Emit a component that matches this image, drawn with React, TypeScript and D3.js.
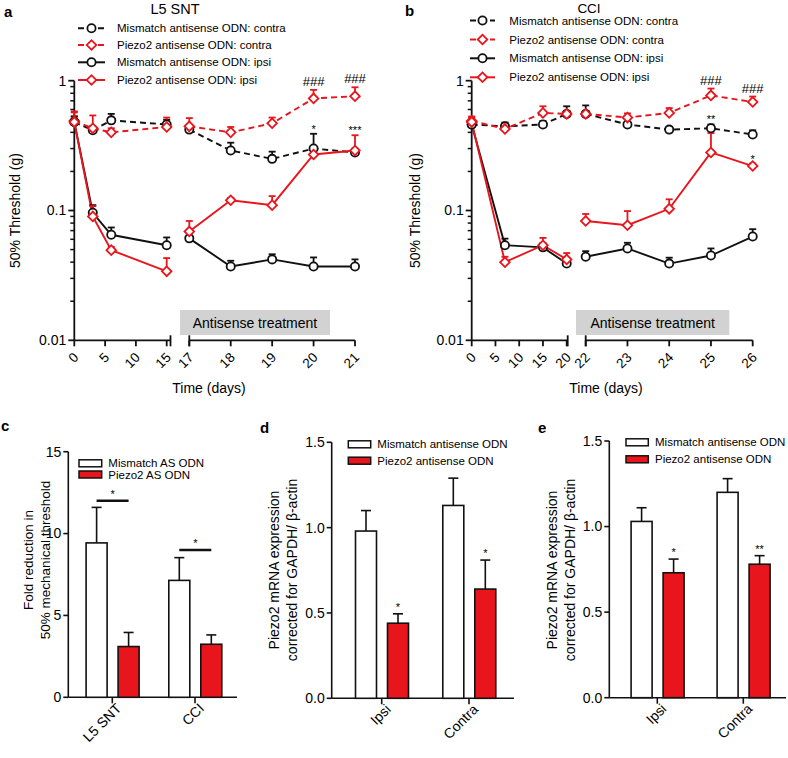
import React from 'react';
import * as d3 from 'd3';

const FONT = '"Liberation Sans", Arial, Helvetica, sans-serif';
const RED = '#e8151c';
const BLACK = '#111111';

// ---------- Panel a (L5 SNT) ----------
const daysA = [0, 3, 6, 15, 17, 18, 19, 20, 21];
const aMismatchContra = [0.48, 0.415, 0.495, 0.46, 0.42, 0.29, 0.25, 0.3, 0.28];
const aMismatchContraSem = [0.05, 0.03, 0.06, 0.04, 0.03, 0.043, 0.034, 0.09, 0.02];
const aPiezoContra = [0.49, 0.43, 0.4, 0.44, 0.445, 0.4, 0.47, 0.73, 0.76];
const aPiezoContraSem = [0.09, 0.11, 0.03, 0.08, 0.07, 0.04, 0.05, 0.12, 0.13];
const aMismatchIpsi = [0.48, 0.096, 0.065, 0.054, 0.061, 0.037, 0.042, 0.037, 0.037];
const aMismatchIpsiSem = [0.05, 0.014, 0.009, 0.008, 0.003, 0.004, 0.004, 0.0065, 0.005];
const aPiezoIpsi = [0.48, 0.09, 0.0495, 0.034, 0.069, 0.12, 0.11, 0.27, 0.29];
const aPiezoIpsiSem = [0.09, 0.018, 0.003, 0.009, 0.014, 0.005, 0.019, 0.02, 0.09];
const aTicks1 = [0, 5, 10, 15];
const aTicks2 = [17, 18, 19, 20, 21];
const aMarks = [
  { day: 20, s: 1, text: '###' },
  { day: 21, s: 1, text: '###' },
  { day: 20, s: 0, text: '*' },
  { day: 21, s: 3, text: '***' },
];

// ---------- Panel b (CCI) ----------
const daysB = [0, 7, 15, 20, 22, 23, 24, 25, 26];
const bMismatchContra = [0.46, 0.445, 0.46, 0.555, 0.555, 0.46, 0.42, 0.43, 0.385];
const bMismatchContraSem = [0.03, 0.03, 0.03, 0.08, 0.09, 0.02, 0.02, 0.03, 0.03];
const bPiezoContra = [0.49, 0.425, 0.565, 0.555, 0.555, 0.52, 0.565, 0.77, 0.685];
const bPiezoContraSem = [0.04, 0.05, 0.07, 0.03, 0.03, 0.04, 0.05, 0.1, 0.07];
const bMismatchIpsi = [0.46, 0.054, 0.052, 0.039, 0.044, 0.051, 0.039, 0.045, 0.063];
const bMismatchIpsiSem = [0.03, 0.0067, 0.004, 0.003, 0.0046, 0.0054, 0.0043, 0.006, 0.0088];
const bPiezoIpsi = [0.48, 0.04, 0.054, 0.042, 0.083, 0.077, 0.103, 0.28, 0.22];
const bPiezoIpsiSem = [0.04, 0.004, 0.0075, 0.005, 0.011, 0.022, 0.019, 0.115, 0.01];
const bTicks1 = [0, 5, 10, 15, 20];
const bTicks2 = [22, 23, 24, 25, 26];
const bMarks = [
  { day: 25, s: 1, text: '###' },
  { day: 26, s: 1, text: '###' },
  { day: 25, s: 0, text: '**' },
  { day: 26, s: 3, text: '*' },
];

const lineLegend = [
  'Mismatch antisense ODN: contra',
  'Piezo2 antisense ODN: contra',
  'Mismatch antisense ODN: ipsi',
  'Piezo2 antisense ODN: ipsi',
];

// ---------- Panel c ----------
const cCats = ['L5 SNT', 'CCI'];
const cMismatch = [9.43, 7.14];
const cMismatchSem = [2.17, 1.39];
const cPiezo = [3.1, 3.24];
const cPiezoSem = [0.86, 0.57];
const cSig = [12, 9];
const cTicks = [0, 5, 10, 15];

// ---------- Panel d ----------
const dCats = ['Ipsi', 'Contra'];
const dMismatch = [0.98, 1.13];
const dMismatchSem = [0.12, 0.16];
const dPiezo = [0.44, 0.64];
const dPiezoSem = [0.055, 0.17];
const dStars = ['*', '*'];

// ---------- Panel e ----------
const eCats = ['Ipsi', 'Contra'];
const eMismatch = [1.03, 1.2];
const eMismatchSem = [0.08, 0.08];
const ePiezo = [0.73, 0.78];
const ePiezoSem = [0.08, 0.05];
const eStars = ['*', '**'];
const mrnaTicks = [0, 0.5, 1.0, 1.5];

function mkSeries(days: number[], vals: number[][], sems: number[][]) {
  const styles = [
    { color: BLACK, dashed: true, marker: 'circle' },
    { color: RED, dashed: true, marker: 'diamond' },
    { color: BLACK, dashed: false, marker: 'circle' },
    { color: RED, dashed: false, marker: 'diamond' },
  ];
  return styles.map((st, i) => ({
    ...st,
    label: lineLegend[i],
    points: days.map((d, j) => ({ d, v: vals[i][j], e: sems[i][j] })),
  }));
}

const seriesA = mkSeries(
  daysA,
  [aMismatchContra, aPiezoContra, aMismatchIpsi, aPiezoIpsi],
  [aMismatchContraSem, aPiezoContraSem, aMismatchIpsiSem, aPiezoIpsiSem]
);
const seriesB = mkSeries(
  daysB,
  [bMismatchContra, bPiezoContra, bMismatchIpsi, bPiezoIpsi],
  [bMismatchContraSem, bPiezoContraSem, bMismatchIpsiSem, bPiezoIpsiSem]
);

const diamondPath = d3.symbol().type(d3.symbolSquare).size(46)() as string;

function Marker({ type, x, y, color }: any) {
  if (type === 'circle')
    return <circle cx={x} cy={y} r={4.1} fill="#fff" stroke={color} strokeWidth={1.8} />;
  return (
    <path
      d={diamondPath}
      transform={`translate(${x},${y}) rotate(45)`}
      fill="#fff"
      stroke={color}
      strokeWidth={1.8}
    />
  );
}

function LinePanel({ cfg }: any) {
  const y = d3.scaleLog().domain([0.01, 1]).range([340.3, 80.7]);
  const x1 = d3.scaleLinear().domain(cfg.seg1.domain).range(cfg.seg1.range);
  const x2 = d3.scaleLinear().domain(cfg.seg2.domain).range(cfg.seg2.range);
  const split = cfg.seg1.domain[1];
  const xOf = (d: number) => (d <= split ? x1(d) : x2(d));
  const axisY = y(0.01);
  const line = d3
    .line<any>()
    .x((p) => xOf(p.d))
    .y((p) => y(p.v));
  const minor: number[] = [];
  [0.01, 0.1].forEach((dec) => {
    for (let k = 2; k <= 9; k++) minor.push(k * dec);
  });
  const majors = [0.01, 0.1, 1];
  const ax = cfg.axisX;
  const series = cfg.series;
  return (
    <g fontFamily={FONT}>
      <text x={cfg.letterX} y={cfg.letterY} fontSize={15} fontWeight="bold">
        {cfg.letter}
      </text>
      <text x={cfg.titleX} y={cfg.titleY} fontSize={cfg.titleSize} textAnchor="middle">
        {cfg.title}
      </text>
      {/* legend */}
      {series.map((s: any, i: number) => {
        const ly = cfg.legend.ys[i];
        return (
          <g key={'lg' + i}>
            <line
              x1={cfg.legend.x0}
              x2={cfg.legend.x1}
              y1={ly}
              y2={ly}
              stroke={s.color}
              strokeWidth={2}
              strokeDasharray={s.dashed ? '6,4' : undefined}
            />
            <Marker type={s.marker} x={(cfg.legend.x0 + cfg.legend.x1) / 2} y={ly} color={s.color} />
            <text x={cfg.legend.tx} y={ly} dy="0.35em" fontSize={11.5}>
              {s.label}
            </text>
          </g>
        );
      })}
      {/* grey box */}
      <rect x={cfg.box[0]} y={310} width={cfg.box[1] - cfg.box[0]} height={25} fill="#d2d2d2" />
      <text x={(cfg.box[0] + cfg.box[1]) / 2} y={327.5} fontSize={14} textAnchor="middle">
        Antisense treatment
      </text>
      {/* y axis */}
      <line x1={ax} x2={ax} y1={y(1)} y2={axisY} stroke={BLACK} strokeWidth={1.8} />
      {majors.map((m) => (
        <g key={'mj' + m}>
          <line x1={ax - 6} x2={ax} y1={y(m)} y2={y(m)} stroke={BLACK} strokeWidth={1.8} />
          <text x={ax - 8} y={y(m)} dy="0.35em" fontSize={14} textAnchor="end">
            {d3.format('~g')(m)}
          </text>
        </g>
      ))}
      {minor.map((m) => (
        <line key={'mn' + m} x1={ax - 4} x2={ax} y1={y(m)} y2={y(m)} stroke={BLACK} strokeWidth={1.5} />
      ))}
      <text
        transform={`translate(${cfg.yLabelX},210.5) rotate(-90)`}
        fontSize={14}
        textAnchor="middle"
        dominantBaseline="central"
      >
        50% Threshold (g)
      </text>
      {/* x axis segments */}
      <line x1={ax} x2={cfg.seg1.end} y1={axisY} y2={axisY} stroke={BLACK} strokeWidth={1.8} />
      <line x1={cfg.seg1.end} x2={cfg.seg1.end} y1={axisY - 5} y2={axisY + 6} stroke={BLACK} strokeWidth={1.8} />
      <line
        x1={cfg.seg2.range[0]}
        x2={cfg.seg2.range[1]}
        y1={axisY}
        y2={axisY}
        stroke={BLACK}
        strokeWidth={1.8}
      />
      <line
        x1={cfg.seg2.range[0]}
        x2={cfg.seg2.range[0]}
        y1={axisY - 5}
        y2={axisY + 6}
        stroke={BLACK}
        strokeWidth={1.8}
      />
      {[...cfg.ticks1.map((t: number) => ({ t, x: x1(t) })), ...cfg.ticks2.map((t: number) => ({ t, x: x2(t) }))].map(
        (tk: any) => (
          <g key={'xt' + tk.t}>
            <line x1={tk.x} x2={tk.x} y1={axisY} y2={axisY + 6} stroke={BLACK} strokeWidth={1.8} />
            <text
              transform={`translate(${tk.x + 5},${axisY + 18}) rotate(-45)`}
              fontSize={13.5}
              textAnchor="end"
            >
              {tk.t}
            </text>
          </g>
        )
      )}
      <text x={cfg.xLabelX} y={393} fontSize={14} textAnchor="middle">
        Time (days)
      </text>
      {/* lines */}
      {series.map((s: any, i: number) => {
        const p1 = s.points.filter((p: any) => p.d <= split);
        const p2 = s.points.filter((p: any) => p.d > split);
        return (
          <g key={'ln' + i} fill="none" stroke={s.color} strokeWidth={1.9} strokeDasharray={s.dashed ? '6,4' : undefined}>
            <path d={line(p1) as string} />
            <path d={line(p2) as string} />
          </g>
        );
      })}
      {/* error bars */}
      {series.map((s: any, i: number) =>
        s.points.map((p: any, j: number) => {
          const xx = xOf(p.d);
          const yt = y(p.v + p.e);
          return (
            <g key={'eb' + i + '-' + j} stroke={s.color} strokeWidth={1.8}>
              <line x1={xx} x2={xx} y1={y(p.v)} y2={yt} />
              <line x1={xx - 3.5} x2={xx + 3.5} y1={yt} y2={yt} />
            </g>
          );
        })
      )}
      {/* markers */}
      {series.map((s: any, i: number) =>
        s.points.map((p: any, j: number) => (
          <Marker key={'mk' + i + '-' + j} type={s.marker} x={xOf(p.d)} y={y(p.v)} color={s.color} />
        ))
      )}
      {/* annotations */}
      {cfg.marks.map((m: any, i: number) => {
        const p = series[m.s].points.find((q: any) => q.d === m.day);
        const isHash = m.text.startsWith('#');
        return (
          <text
            key={'an' + i}
            x={xOf(m.day)}
            y={y(p.v + p.e) - (isHash ? 4 : 1)}
            fontSize={isHash ? 13 : 11}
            textAnchor="middle"
          >
            {m.text}
          </text>
        );
      })}
    </g>
  );
}

function BarPanel({ cfg }: any) {
  const y = d3.scaleLinear().domain(cfg.domain).range([cfg.y0, cfg.yTop]);
  const x = d3.scalePoint<string>().domain(cfg.cats).range(cfg.catRange);
  const ax = cfg.axisX;
  const bw = 21;
  const groups = [
    { vals: cfg.white, sems: cfg.whiteSem, fill: '#fff', off: -15.7 },
    { vals: cfg.red, sems: cfg.redSem, fill: RED, off: 16.3 },
  ];
  return (
    <g fontFamily={FONT}>
      <text x={cfg.letterX} y={cfg.letterY} fontSize={15} fontWeight="bold">
        {cfg.letter}
      </text>
      {/* y axis */}
      <line x1={ax} x2={ax} y1={cfg.yTop} y2={cfg.y0} stroke={BLACK} strokeWidth={1.6} />
      {cfg.ticks.map((t: number) => (
        <g key={'yt' + t}>
          <line x1={ax - 5} x2={ax} y1={y(t)} y2={y(t)} stroke={BLACK} strokeWidth={1.6} />
          <text x={ax - 7} y={y(t)} dy="0.35em" fontSize={14} textAnchor="end">
            {cfg.fmt(t)}
          </text>
        </g>
      ))}
      {cfg.ylabel.map((l: string, i: number) => (
        <text
          key={'yl' + i}
          transform={`translate(${cfg.ylabelX[i]},${cfg.ylabelY}) rotate(-90)`}
          fontSize={cfg.ylabelSize}
          textAnchor="middle"
          dominantBaseline="central"
        >
          {l}
        </text>
      ))}
      {/* x axis */}
      <line x1={ax} x2={cfg.xEnd} y1={cfg.y0} y2={cfg.y0} stroke={BLACK} strokeWidth={1.6} />
      {cfg.cats.map((c: string) => (
        <g key={'xc' + c}>
          <line x1={x(c)} x2={x(c)} y1={cfg.y0} y2={cfg.y0 + 6} stroke={BLACK} strokeWidth={1.6} />
          <text
            transform={`translate(${(x(c) as number) + 10},${cfg.y0 + 12}) rotate(-45)`}
            fontSize={14}
            textAnchor="end"
          >
            {c}
          </text>
        </g>
      ))}
      {/* bars */}
      {groups.map((g, gi) =>
        cfg.cats.map((c: string, i: number) => {
          const cx = (x(c) as number) + g.off;
          const top = y(g.vals[i]);
          const et = y(g.vals[i] + g.sems[i]);
          return (
            <g key={'b' + gi + i}>
              <line x1={cx} x2={cx} y1={top} y2={et} stroke={BLACK} strokeWidth={1.6} />
              <line x1={cx - 5} x2={cx + 5} y1={et} y2={et} stroke={BLACK} strokeWidth={1.6} />
              <rect
                x={cx - bw / 2}
                y={top}
                width={bw}
                height={cfg.y0 - top}
                fill={g.fill}
                stroke={BLACK}
                strokeWidth={1.6}
              />
            </g>
          );
        })
      )}
      {/* stars over red bars */}
      {cfg.stars &&
        cfg.cats.map((c: string, i: number) => (
          <text
            key={'st' + i}
            x={(x(c) as number) + 16.3}
            y={y(cfg.red[i] + cfg.redSem[i]) - 3}
            fontSize={11}
            textAnchor="middle"
          >
            {cfg.stars[i]}
          </text>
        ))}
      {/* significance lines */}
      {cfg.sig &&
        cfg.cats.map((c: string, i: number) => (
          <g key={'sg' + i}>
            <line
              x1={(x(c) as number) - 15.7}
              x2={(x(c) as number) + 16.3}
              y1={y(cfg.sig[i])}
              y2={y(cfg.sig[i])}
              stroke={BLACK}
              strokeWidth={2.6}
            />
            <text x={(x(c) as number) + 0.3} y={y(cfg.sig[i]) - 3} fontSize={11} textAnchor="middle">
              *
            </text>
          </g>
        ))}
      {/* legend */}
      {cfg.legendLabels.map((l: string, i: number) => (
        <g key={'lg' + i}>
          <rect
            x={cfg.legendX[0]}
            y={cfg.legendYs[i] - 3.5}
            width={cfg.legendX[1] - cfg.legendX[0]}
            height={7}
            fill={i === 0 ? '#fff' : RED}
            stroke={BLACK}
            strokeWidth={1.5}
          />
          <text x={cfg.legendTx} y={cfg.legendYs[i]} dy="0.35em" fontSize={11.5}>
            {l}
          </text>
        </g>
      ))}
    </g>
  );
}

export default function App() {
  const cfgA = {
    letter: 'a',
    letterX: 4,
    letterY: 17,
    title: 'L5 SNT',
    titleX: 175,
    titleY: 14,
    titleSize: 14.5,
    axisX: 74.3,
    seg1: { domain: [0, 15], range: [74.3, 166.7], end: 170.5 },
    seg2: { domain: [17, 21], range: [189.3, 355] },
    ticks1: aTicks1,
    ticks2: aTicks2,
    box: [180, 330],
    xLabelX: 209,
    yLabelX: 15,
    legend: { x0: 78, x1: 105, tx: 117, ys: [28.3, 45, 62.3, 80] },
    series: seriesA,
    marks: aMarks,
  };
  const cfgB = {
    letter: 'b',
    letterX: 405,
    letterY: 16,
    title: 'CCI',
    titleX: 589,
    titleY: 13,
    titleSize: 13.5,
    axisX: 471.7,
    seg1: { domain: [0, 20], range: [471.7, 566.7], end: 567.7 },
    seg2: { domain: [22, 26], range: [585.7, 752.7] },
    ticks1: bTicks1,
    ticks2: bTicks2,
    box: [576, 729.3],
    xLabelX: 606,
    yLabelX: 415,
    legend: { x0: 470, x1: 495, tx: 509.3, ys: [20.5, 39.5, 58.3, 77.3] },
    series: seriesB,
    marks: bMarks,
  };
  const cfgC = {
    letter: 'c',
    letterX: 1,
    letterY: 431,
    axisX: 68.3,
    yTop: 451.7,
    y0: 697.3,
    xEnd: 237,
    domain: [0, 15],
    ticks: cTicks,
    fmt: (t: number) => String(t),
    cats: cCats,
    catRange: [112.3, 195],
    white: cMismatch,
    whiteSem: cMismatchSem,
    red: cPiezo,
    redSem: cPiezoSem,
    sig: cSig,
    ylabel: ['Fold reduction in', '50% mechanical threshold'],
    ylabelX: [28, 45],
    ylabelY: 560,
    ylabelSize: 13.5,
    legendLabels: ['Mismatch AS ODN', 'Piezo2 AS ODN'],
    legendX: [79, 101.7],
    legendYs: [463.3, 474.5],
    legendTx: 108.3,
  };
  const cfgD = {
    letter: 'd',
    letterX: 260,
    letterY: 433,
    axisX: 331.7,
    yTop: 442.3,
    y0: 698.3,
    xEnd: 514,
    domain: [0, 1.5],
    ticks: mrnaTicks,
    fmt: d3.format('.1f'),
    cats: dCats,
    catRange: [381.7, 469],
    white: dMismatch,
    whiteSem: dMismatchSem,
    red: dPiezo,
    redSem: dPiezoSem,
    stars: dStars,
    ylabel: ['Piezo2 mRNA expression', 'corrected for GAPDH/ \u03b2-actin'],
    ylabelX: [274, 291.7],
    ylabelY: 570,
    ylabelSize: 14,
    legendLabels: ['Mismatch antisense ODN', 'Piezo2 antisense ODN'],
    legendX: [348.3, 370.7],
    legendYs: [444.3, 460.7],
    legendTx: 377.3,
  };
  const cfgE = {
    letter: 'e',
    letterX: 538,
    letterY: 433,
    axisX: 609.3,
    yTop: 441,
    y0: 697.7,
    xEnd: 786,
    domain: [0, 1.5],
    ticks: mrnaTicks,
    fmt: d3.format('.1f'),
    cats: eCats,
    catRange: [657.3, 743.3],
    white: eMismatch,
    whiteSem: eMismatchSem,
    red: ePiezo,
    redSem: ePiezoSem,
    stars: eStars,
    ylabel: ['Piezo2 mRNA expression', 'corrected for GAPDH/ \u03b2-actin'],
    ylabelX: [551.7, 570],
    ylabelY: 570,
    ylabelSize: 14,
    legendLabels: ['Mismatch antisense ODN', 'Piezo2 antisense ODN'],
    legendX: [626, 648.3],
    legendYs: [442.3, 459.3],
    legendTx: 655,
  };
  return (
    <svg
      width={788}
      height={758}
      viewBox="0 0 788 758"
      style={{ position: 'absolute', left: 0, top: 0, background: '#fff' }}
    >
      <rect width={788} height={758} fill="#fff" />
      <LinePanel cfg={cfgA} />
      <LinePanel cfg={cfgB} />
      <BarPanel cfg={cfgC} />
      <BarPanel cfg={cfgD} />
      <BarPanel cfg={cfgE} />
    </svg>
  );
}
